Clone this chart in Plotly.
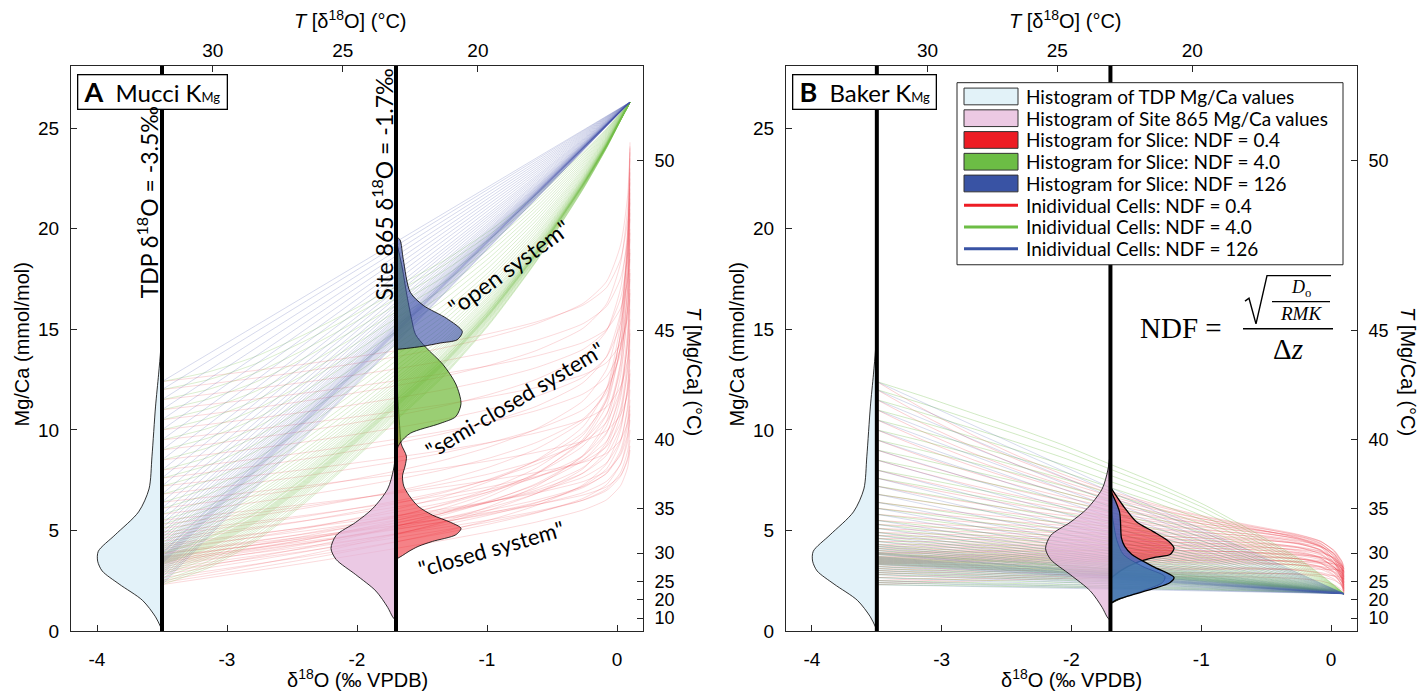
import math
import plotly.graph_objects as go

W, H = 1421, 698

# ---------------- axes ----------------
D18O_RANGE = [-4.2, 0.2]
MGCA_RANGE = [0.0, 28.1]
D18O_TICKS = [-4, -3, -2, -1, 0]
MGCA_TICKS = [0, 5, 10, 15, 20, 25]
# top axis: temperature from δ18O, placed at the δ18O value of each label
T18_TICK_LABELS = ["30", "25", "20"]
T18_TICK_D18O = [-3.11, -2.11, -1.07]
# right axis: temperature from Mg/Ca = A * exp(B * T)
TMG_TICK_LABELS = [10, 20, 25, 30, 35, 40, 45, 50]
MGT_A, MGT_B = 0.26, 0.09

# ---------------- end members ----------------
TDP_D18O = -3.5
SITE865_D18O = -1.7
FINAL_D18O = 0.1
MUCCI_FINAL_MGCA = 26.3
BAKER_FINAL_MGCA = 1.85

# ---------------- model cells ----------------
# initial (TDP) Mg/Ca of each cell
CELL_START = [2.3, 2.4, 2.5, 2.65, 2.8, 2.9, 3.0, 3.1, 3.2, 3.3,
              3.35, 3.4, 3.45, 3.5, 3.55, 3.6, 3.65, 3.7, 3.8, 3.85,
              3.9, 4.0, 4.1, 4.2, 4.3, 4.45, 4.6, 4.75, 4.9, 5.1,
              5.3, 5.5, 5.8, 6.1, 6.4, 6.8, 7.2, 7.6, 8.0, 8.5,
              9.0, 9.5, 10.0, 10.5, 11.0, 11.5, 12.0, 12.4]
# fractional δ18O progress along each cell path (TDP -> final)
PATH_T = [0, .1, .2, .3, .4, .5, .6, .7, .8, .9, .95, .98, .995, 1.0]
# Mg/Ca progress along the path for each system
MUCCI_SEMI = [0, .035, .09, .165, .25, .34, .43, .54, .67, .82, .905, .962, .99, 1.0]
MUCCI_CLOSED_RAMP = [0, .1, .2, .3, .4, .5, .6, .7, .8, .9, .95, .98, .995, 1.0]
MUCCI_CLOSED_HOOK = [0, .004, .01, .018, .03, .045, .065, .095, .14, .22, .32, .5, .75, 1.0]
BAKER_SEMI = [0, .07, .145, .22, .3, .39, .48, .58, .7, .83, .91, .962, .99, 1.0]
BAKER_CLOSED_RAMP = [0, .19, .36, .51, .64, .75, .84, .91, .96, .99, .997, 1.0, 1.0, 1.0]
BAKER_CLOSED_HOOK = [0, 0, .002, .005, .01, .02, .035, .06, .1, .2, .33, .55, .8, 1.0]

MUCCI_CLOSED_KNEE = [5.6, 5.65, 5.7, 5.75, 5.8, 5.85, 5.9, 5.95, 6.0, 6.0,
                     6.05, 6.1, 6.1, 6.15, 6.2, 6.2, 6.25, 6.3, 6.35, 6.4,
                     6.45, 6.5, 6.6, 6.7, 6.8, 6.9, 7.0, 7.1, 7.3, 7.5,
                     7.7, 7.9, 8.2, 8.5, 8.8, 9.2, 9.6, 10.0, 10.4, 10.9,
                     11.4, 11.9, 12.4, 12.9, 13.4, 13.9, 14.4, 14.8]
MUCCI_CLOSED_END = [9.0, 14.5, 21.0, 11.0, 17.5, 24.0, 10.0, 13.0, 19.5, 9.5,
                    15.5, 22.5, 12.0, 18.0, 10.5, 23.5, 16.0, 11.5, 20.5, 9.2,
                    14.0, 24.3, 12.5, 17.0, 10.8, 21.5, 15.0, 19.0, 13.5, 22.0,
                    16.5, 11.2, 20.0, 23.0, 12.8, 18.5, 14.8, 21.8, 17.8, 19.8,
                    22.8, 16.8, 20.8, 23.8, 18.8, 21.3, 24.1, 22.3]
BAKER_CLOSED_KNEE = [2.8, 2.9, 3.0, 3.1, 3.2, 3.3, 3.4, 3.5, 3.55, 3.6,
                     3.65, 3.7, 3.75, 3.8, 3.85, 3.9, 3.95, 4.0, 4.05, 4.1,
                     4.15, 4.2, 4.25, 4.3, 4.35, 4.4, 4.45, 4.5, 4.55, 4.6,
                     4.65, 4.7, 4.75, 4.8, 4.85, 4.9, 4.95, 5.0, 5.02, 5.05,
                     5.08, 5.1, 5.12, 5.14, 5.16, 5.18, 5.2, 5.2]
BAKER_CLOSED_END = [1.85, 2.6, 2.1, 3.0, 2.3, 1.95, 2.8, 2.45, 3.15, 2.0,
                    2.7, 2.2, 2.95, 1.9, 2.55, 2.35, 3.1, 2.05, 2.85, 2.4,
                    1.8, 2.65, 2.25, 3.05, 2.15, 2.5, 2.9, 1.88, 2.75, 2.3,
                    3.2, 2.0, 2.6, 2.42, 2.92, 2.12, 2.68, 1.98, 2.82, 2.52,
                    3.08, 2.22, 2.72, 2.38, 2.98, 2.1, 2.58, 2.88]

# ---------------- histograms (Mg/Ca level, half-violin width in ‰) ----------------
TDP_HIST_MGCA = [15.5, 14.0, 12.77, 11.14, 8.69, 7.06, 5.92, 4.78, 3.96, 3.47, 2.98, 2.33, 1.52, 0.70, 0.05]
TDP_HIST_W = [0.0, 0.01, 0.026, 0.05, 0.077, 0.10, 0.18, 0.36, 0.49, 0.495, 0.46, 0.33, 0.15, 0.05, 0.0]
S865_HIST_MGCA = [9.0, 8.0, 7.06, 6.08, 5.4, 4.75, 4.1, 3.55, 2.8, 1.98, 1.17, 0.7, 0.5]
S865_HIST_W = [0.0, 0.02, 0.064, 0.18, 0.31, 0.46, 0.50, 0.46, 0.31, 0.154, 0.064, 0.026, 0.0]

MUCCI_RED_MGCA = [13.0, 12.0, 11.0, 10.0, 9.3, 8.69, 8.2, 7.71, 7.2, 6.74, 6.2, 5.76, 5.4, 5.10, 4.78, 4.45, 4.2, 3.96, 3.75, 3.56]
MUCCI_RED_W = [0.0, 0.01, 0.02, 0.03, 0.04, 0.08, 0.07, 0.05, 0.06, 0.10, 0.17, 0.28, 0.42, 0.50, 0.46, 0.28, 0.17, 0.10, 0.05, 0.0]
MUCCI_GREEN_MGCA = [19.5, 18.0, 16.84, 15.5, 14.75, 14.1, 13.26, 12.28, 11.3, 10.66, 10.32, 9.83, 9.34, 8.9]
MUCCI_GREEN_W = [0.0, 0.05, 0.08, 0.12, 0.15, 0.23, 0.36, 0.46, 0.50, 0.46, 0.34, 0.11, 0.03, 0.0]
MUCCI_BLUE_MGCA = [19.6, 19.46, 18.48, 16.84, 16.19, 15.54, 14.89, 14.48, 14.32, 14.16, 14.05, 14.0]
MUCCI_BLUE_W = [0.0, 0.03, 0.056, 0.11, 0.21, 0.39, 0.51, 0.47, 0.34, 0.21, 0.08, 0.0]

BAKER_RED_MGCA = [7.15, 6.25, 5.43, 4.94, 4.45, 4.12, 3.8, 3.67, 3.4, 3.0, 2.6]
BAKER_RED_W = [0.0, 0.095, 0.2, 0.33, 0.45, 0.49, 0.46, 0.35, 0.2, 0.08, 0.0]
BAKER_GREEN_MGCA = [6.3, 5.5, 4.5, 3.8, 3.2, 2.7, 2.4, 2.0, 1.6, 1.35]
BAKER_GREEN_W = [0.0, 0.02, 0.05, 0.1, 0.25, 0.42, 0.40, 0.25, 0.08, 0.0]
BAKER_BLUE_MGCA = [7.0, 5.92, 4.61, 4.2, 3.8, 3.2, 2.66, 2.41, 2.1, 1.76, 1.52, 1.36]
BAKER_BLUE_W = [0.0, 0.07, 0.085, 0.11, 0.165, 0.33, 0.49, 0.46, 0.33, 0.15, 0.04, 0.0]

# ---------------- styles ----------------
AXF = "Liberation Sans, Arial, sans-serif"
TXF = "Lato, Open Sans, sans-serif"
MATHF = "Liberation Serif, DejaVu Serif, serif"
AXC = "#262626"

RED_LINE = "rgba(236,60,70,0.24)"
GREEN_LINE = "rgba(112,190,70,0.32)"
BLUE_LINE = "rgba(70,80,170,0.28)"
BLUE_LINE_B = "rgba(70,90,175,0.22)"
TDP_FILL = "rgba(222,240,248,0.85)"
PINK_FILL = "rgba(226,178,216,0.7)"
RED_FILL = "rgba(237,28,36,0.55)"
GREEN_FILL = "rgba(100,180,40,0.65)"
BLUE_FILL = "rgba(59,79,168,0.62)"
BLUE_FILL_B = "rgba(60,105,195,0.8)"

fig = go.Figure()


def add_line(xs, ys, color, xa, ya, width=0.8):
    fig.add_trace(go.Scatter(x=xs, y=ys, mode="lines",
                             line=dict(color=color, width=width, shape="spline", smoothing=0.6),
                             xaxis=xa, yaxis=ya, hoverinfo="skip", showlegend=False))


path_x = [TDP_D18O + (FINAL_D18O - TDP_D18O) * t for t in PATH_T]

# ---- panel A: Mucci partitioning ----
for y0, k, e in zip(CELL_START, MUCCI_CLOSED_KNEE, MUCCI_CLOSED_END):
    ys = [y0 + (k - y0) * r + (e - k) * h for r, h in zip(MUCCI_CLOSED_RAMP, MUCCI_CLOSED_HOOK)]
    add_line(path_x, ys, RED_LINE, "x", "y")
for y0 in CELL_START:
    ys = [y0 + (MUCCI_FINAL_MGCA - y0) * g for g in MUCCI_SEMI]
    add_line(path_x, ys, GREEN_LINE, "x", "y")
for y0 in CELL_START:
    ys = [y0 + (MUCCI_FINAL_MGCA - y0) * t for t in PATH_T]
    add_line(path_x, ys, BLUE_LINE, "x", "y")

# ---- panel B: Baker partitioning ----
for y0, k, e in zip(CELL_START, BAKER_CLOSED_KNEE, BAKER_CLOSED_END):
    ys = [y0 + (k - y0) * r + (e - k) * h for r, h in zip(BAKER_CLOSED_RAMP, BAKER_CLOSED_HOOK)]
    add_line(path_x, ys, RED_LINE, "x3", "y3", 1.0)
for y0 in CELL_START:
    ys = [y0 + (BAKER_FINAL_MGCA - y0) * g for g in BAKER_SEMI]
    add_line(path_x, ys, GREEN_LINE, "x3", "y3", 1.0)
for y0 in CELL_START:
    ys = [y0 + (BAKER_FINAL_MGCA - y0) * t for t in PATH_T]
    add_line(path_x, ys, BLUE_LINE_B, "x3", "y3", 1.0)


def add_hist(base, levels, widths, side, fill, xa, ya, lw=0.8):
    xs = [base + side * w for w in widths]
    fig.add_trace(go.Scatter(x=xs, y=levels, mode="lines", fill="toself", fillcolor=fill,
                             line=dict(color="black", width=lw, shape="spline", smoothing=0.8),
                             xaxis=xa, yaxis=ya, hoverinfo="skip", showlegend=False))


for xa, ya in (("x", "y"), ("x3", "y3")):
    add_hist(TDP_D18O, TDP_HIST_MGCA, TDP_HIST_W, -1, TDP_FILL, xa, ya)
    add_hist(SITE865_D18O, S865_HIST_MGCA, S865_HIST_W, -1, PINK_FILL, xa, ya)

add_hist(SITE865_D18O, MUCCI_RED_MGCA, MUCCI_RED_W, 1, RED_FILL, "x", "y")
add_hist(SITE865_D18O, MUCCI_GREEN_MGCA, MUCCI_GREEN_W, 1, GREEN_FILL, "x", "y")
add_hist(SITE865_D18O, MUCCI_BLUE_MGCA, MUCCI_BLUE_W, 1, BLUE_FILL, "x", "y")
add_hist(SITE865_D18O, BAKER_RED_MGCA, BAKER_RED_W, 1, RED_FILL, "x3", "y3", 1.3)
add_hist(SITE865_D18O, BAKER_GREEN_MGCA, BAKER_GREEN_W, 1, GREEN_FILL, "x3", "y3", 0.8)
add_hist(SITE865_D18O, BAKER_BLUE_MGCA, BAKER_BLUE_W, 1, BLUE_FILL_B, "x3", "y3", 1.3)

# empty traces so the secondary (temperature) axes are laid out
for xa, ya in (("x2", "y2"), ("x4", "y4")):
    fig.add_trace(go.Scatter(x=[None], y=[None], xaxis=xa, yaxis=ya, mode="lines",
                             hoverinfo="skip", showlegend=False))


# ---------------- layout helpers ----------------
def px(x):
    return x / W


def py(y):
    return 1 - y / H


DOM_A = [px(71), px(643)]
DOM_B = [px(786), px(1357)]
DOM_Y = [py(641), py(67)]


def axis(size=19, **kw):
    d = dict(showline=True, linecolor=AXC, linewidth=1, ticks="inside", ticklen=6,
             tickcolor=AXC, tickwidth=1, showgrid=False, zeroline=False,
             tickfont=dict(family=AXF, size=size, color="black"), fixedrange=True)
    d.update(kw)
    return d


tmg_vals = [MGT_A * math.exp(MGT_B * t) for t in TMG_TICK_LABELS]
tmg_text = [str(t) for t in TMG_TICK_LABELS]

layout_axes = {}
for xb, yb, xt, yr, dom in (("xaxis", "yaxis", "xaxis2", "yaxis2", DOM_A),
                            ("xaxis3", "yaxis3", "xaxis4", "yaxis4", DOM_B)):
    xid = "x" if xb == "xaxis" else "x3"
    yid = "y" if yb == "yaxis" else "y3"
    layout_axes[xb] = axis(domain=dom, range=D18O_RANGE, anchor=yid, tickvals=D18O_TICKS,
                           ticktext=[str(v) for v in D18O_TICKS], ticklabelstandoff=11)
    layout_axes[yb] = axis(domain=DOM_Y, range=MGCA_RANGE, anchor=xid, tickvals=MGCA_TICKS,
                           ticklabelstandoff=7)
    layout_axes[xt] = axis(overlaying=xid, side="top", anchor=yid, range=D18O_RANGE,
                           tickvals=T18_TICK_D18O, ticktext=T18_TICK_LABELS, ticklabelstandoff=0)
    layout_axes[yr] = axis(size=18, overlaying=yid, side="right", anchor=xid, range=MGCA_RANGE,
                           tickvals=tmg_vals, ticktext=tmg_text, ticklabelstandoff=7)

shapes = []
for xref, yref in (("x", "y domain"), ("x3", "y3 domain")):
    for xv in (TDP_D18O, SITE865_D18O):
        shapes.append(dict(type="line", xref=xref, yref=yref, x0=xv, x1=xv, y0=0, y1=1,
                           line=dict(color="black", width=4), layer="above"))

annotations = []


def note(text, x, y, size=20, family=TXF, angle=0, xanchor="center", yanchor="middle",
         xref="paper", yref="paper", **kw):
    annotations.append(dict(text=text, x=x, y=y, xref=xref, yref=yref, showarrow=False,
                            textangle=angle, xanchor=xanchor, yanchor=yanchor,
                            font=dict(family=family, size=size, color="black"), **kw))


# axis titles
for left, right in ((71, 643), (786, 1357)):
    mid = (left + right) / 2
    note("Mg/Ca (mmol/mol)", px(left - 49), py(350), size=20, family=AXF, angle=-90)
    note("<i>T</i> [Mg/Ca] (°C)", px(right + 51), py(377), size=20, family=AXF, angle=90)
    note("δ<sup>18</sup>O (‰ VPDB)", px(mid), py(689), size=20, family=AXF)
    note("<i>T</i> [δ<sup>18</sup>O] (°C)", px(mid - 7), py(20), size=20, family=AXF)

# panel labels
SUB = '<span style="font-size:13px">Mg</span>'
BIG = '<span style="font-size:27px"><b>{}</b></span>'
note("\u00a0" + BIG.format("A") + "  Mucci K" + SUB + "\u00a0", px(77), py(75), size=24,
     xanchor="left", yanchor="top", bordercolor="black", borderwidth=1.3, borderpad=0,
     bgcolor="white")
note("\u00a0" + BIG.format("B") + "  Baker K" + SUB + "\u00a0", px(792), py(75), size=24,
     xanchor="left", yanchor="top", bordercolor="black", borderwidth=1.3, borderpad=0,
     bgcolor="white")

# panel A in-plot labels
note("TDP δ<sup>18</sup>O = -3.5‰", -3.61, 21.3, size=23, angle=-90, xref="x", yref="y")
note("Site 865 δ<sup>18</sup>O = -1.7‰", -1.8, 22.2, size=23, angle=-90, xref="x", yref="y")
note('"open system"', -0.83, 18.1, size=23, angle=-36, xref="x", yref="y")
note('"semi-closed system"', -0.785, 11.5, size=22, angle=-31, xref="x", yref="y")
note('"closed system"', -0.97, 4.1, size=22, angle=-16, xref="x", yref="y")

# legend (panel B)
LEGEND_ITEMS = [
    ("Histogram of TDP Mg/Ca values", "fill", "#e2f2f8"),
    ("Histogram of Site 865 Mg/Ca values", "fill", "#ecc9e3"),
    ("Histogram for Slice: NDF = 0.4", "fill", "#ed1c24"),
    ("Histogram for Slice: NDF = 4.0", "fill", "#6cbd45"),
    ("Histogram for Slice: NDF = 126", "fill", "#3953a4"),
    ("Inidividual Cells: NDF = 0.4", "line", "#ed1c24"),
    ("Inidividual Cells: NDF = 4.0", "line", "#6cbd45"),
    ("Inidividual Cells: NDF = 126", "line", "#3953a4"),
]
LEG_X0, LEG_X1, LEG_Y0, LEG_Y1 = 957, 1343, 84, 269
shapes.append(dict(type="rect", xref="paper", yref="paper", x0=px(LEG_X0), x1=px(LEG_X1),
                   y0=py(LEG_Y1), y1=py(LEG_Y0), fillcolor="white",
                   line=dict(color=AXC, width=1), layer="above"))
for i, (label, kind, color) in enumerate(LEGEND_ITEMS):
    yc = 98 + i * 22.1
    if kind == "fill":
        shapes.append(dict(type="rect", xref="paper", yref="paper", x0=px(964), x1=px(1018),
                           y0=py(yc + 8.5), y1=py(yc - 8.5), fillcolor=color,
                           line=dict(color="#333333", width=1), layer="above"))
    else:
        shapes.append(dict(type="line", xref="paper", yref="paper", x0=px(964), x1=px(1018),
                           y0=py(yc), y1=py(yc), line=dict(color=color, width=3), layer="above"))
    note(label, px(1024), py(yc), size=19, xanchor="left")

# NDF definition
note("NDF =", px(1181), py(333), size=29, family=MATHF)
note("<i>D</i><sub>o</sub>", px(1301), py(306), size=18, family=MATHF, yanchor="bottom",
     borderpad=0)
note("<i>RMK</i>", px(1301), py(307), size=19, family=MATHF, yanchor="top", borderpad=0)
note("Δ<i>z</i>", px(1288), py(355), size=29, family=MATHF)
shapes.append(dict(type="line", xref="paper", yref="paper", x0=px(1243), x1=px(1333),
                   y0=py(334), y1=py(334), line=dict(color="black", width=1.6), layer="above"))
shapes.append(dict(type="line", xref="paper", yref="paper", x0=px(1272), x1=px(1330),
                   y0=py(306.5), y1=py(306.5), line=dict(color="black", width=1.2), layer="above"))
sqrt_pts = [(1245, 306), (1249, 303), (1256, 329), (1267, 280), (1331, 280)]
sqrt_path = "M " + " L ".join(f"{px(a):.5f},{py(b):.5f}" for a, b in sqrt_pts)
shapes.append(dict(type="path", xref="paper", yref="paper", path=sqrt_path,
                   line=dict(color="black", width=1.4), layer="above"))

fig.update_layout(
    width=W, height=H, autosize=False,
    margin=dict(l=0, r=0, t=0, b=0),
    paper_bgcolor="white", plot_bgcolor="white",
    showlegend=False,
    shapes=shapes, annotations=annotations,
    **layout_axes,
)

fig.write_html("out.html")
